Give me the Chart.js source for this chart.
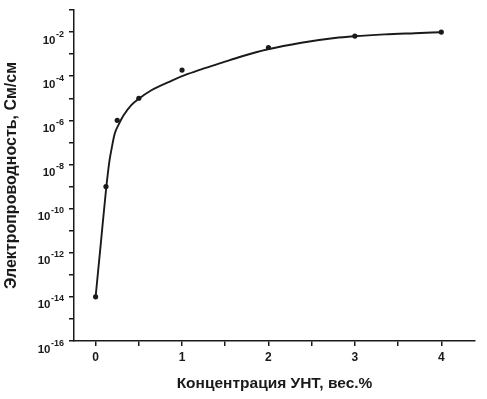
<!DOCTYPE html>
<html>
<head>
<meta charset="utf-8">
<script src="https://cdn.jsdelivr.net/npm/chart.js@4"></script>
<style>
    body { margin: 0; background: #fff; }
    #wrap { width: 487px; height: 399px; }
</style>
</head>
<body>
<div id="wrap"><canvas id="myChart" width="487" height="399"></canvas></div>
<script>
// measured points (conc. in wt.%, conductivity in S/cm)
const concentration = [0, 0.12, 0.25, 0.5, 1, 2, 3, 4];
const conductivity = [1e-14, 1e-9, 1e-6, 1e-5, 1.9e-4, 2.0e-3, 6.6e-3, 1.0e-2];

// fitted curve
const fitConcentration = [0, 0.06, 0.124, 0.142, 0.162, 0.189, 0.22, 0.272, 0.324, 0.413, 0.49, 0.645, 0.876, 1.068, 1.262, 1.455, 1.686, 1.994, 2.381, 2.766, 2.99, 3.345, 3.692, 3.993];
const fitConductivity = [1e-14, 2.6e-12, 9.8e-10, 4.0e-9, 1.6e-8, 6.3e-8, 2.4e-7, 7.1e-7, 1.7e-6, 4.9e-6, 8.9e-6, 2.3e-5, 6.2e-5, 1.26e-4, 2.3e-4, 4.0e-4, 7.8e-4, 1.66e-3, 3.3e-3, 5.4e-3, 6.5e-3, 7.9e-3, 8.9e-3, 9.8e-3];

// axis ticks
const xTicks = [0, 0.5, 1, 1.5, 2, 2.5, 3, 3.5, 4];
const yTickExps = [-16, -15, -14, -13, -12, -11, -10, -9, -8, -7, -6, -5, -4, -3, -2, -1];
const yLabelExps = [-16, -14, -12, -10, -8, -6, -4, -2];

const FONT = "'Liberation Sans', Arial, sans-serif";
const INK = "#1a1a1a";

// draws "10" with a raised exponent next to each labelled y tick
const powerLabels = {
    id: "powerLabels",
    afterDraw(chart) {
        const ctx = chart.ctx;
        const y = chart.scales.y;
        const right = y.right - 10;
        ctx.save();
        ctx.fillStyle = INK;
        ctx.textAlign = "left";
        ctx.textBaseline = "alphabetic";
        yLabelExps.forEach(e => {
            const py = y.getPixelForValue(Math.pow(10, e));
            const exp = "-" + Math.abs(e);
            ctx.font = "bold 9px " + FONT;
            const ew = ctx.measureText(exp).width;
            ctx.fillText(exp, right - ew, py + 4.5);
            ctx.font = "bold 11.5px " + FONT;
            const bw = ctx.measureText("10").width;
            ctx.fillText("10", right - ew - bw - 0.5, py + 11.5);
        });
        ctx.restore();
    }
};

new Chart(document.getElementById("myChart"), {
    type: "line",
    data: {
        datasets: [{
            data: fitConcentration.map((x, i) => ({ x: x, y: fitConductivity[i] })),
            borderColor: INK,
            borderWidth: 1.9,
            pointRadius: 0,
            cubicInterpolationMode: "monotone",
            fill: false
        }, {
            data: concentration.map((x, i) => ({ x: x, y: conductivity[i] })),
            showLine: false,
            pointRadius: 2.6,
            pointBackgroundColor: INK,
            pointBorderWidth: 0
        }]
    },
    options: {
        responsive: false,
        animation: false,
        layout: { padding: { left: 0, right: 12, top: 10, bottom: 0 } },
        plugins: { legend: { display: false }, tooltip: { enabled: false } },
        scales: {
            x: {
                type: "linear",
                min: -0.25,
                max: 4.39,
                afterBuildTicks: s => { s.ticks = xTicks.map(v => ({ value: v })); },
                afterFit: s => { s.height = 58; },
                grid: { drawOnChartArea: false, tickLength: 5, color: INK, lineWidth: 1.5 },
                border: { color: INK, width: 1.5 },
                ticks: {
                    autoSkip: false,
                    maxRotation: 0,
                    padding: 4,
                    color: INK,
                    font: { family: FONT, size: 12, weight: "bold" },
                    callback: v => Number.isInteger(v) ? String(v) : ""
                },
                title: {
                    display: true,
                    text: "Концентрация УНТ, вес.%",
                    color: INK,
                    font: { family: FONT, size: 15.5, weight: "bold" },
                    padding: { top: 0, bottom: 6 }
                }
            },
            y: {
                type: "logarithmic",
                min: 1e-16,
                max: 1e-1,
                afterBuildTicks: s => { s.ticks = yTickExps.map(e => ({ value: Math.pow(10, e) })); },
                afterFit: s => { s.width = 74; },
                grid: { drawOnChartArea: false, tickLength: 5, color: INK, lineWidth: 1.5 },
                border: { color: INK, width: 1.5 },
                ticks: { display: false, autoSkip: false },
                title: {
                    display: true,
                    text: "Электропроводность, См/см",
                    color: INK,
                    font: { family: FONT, size: 16, weight: "bold" },
                    padding: { top: 2, bottom: 0 }
                }
            }
        }
    },
    plugins: [powerLabels]
});
</script>
</body>
</html>
